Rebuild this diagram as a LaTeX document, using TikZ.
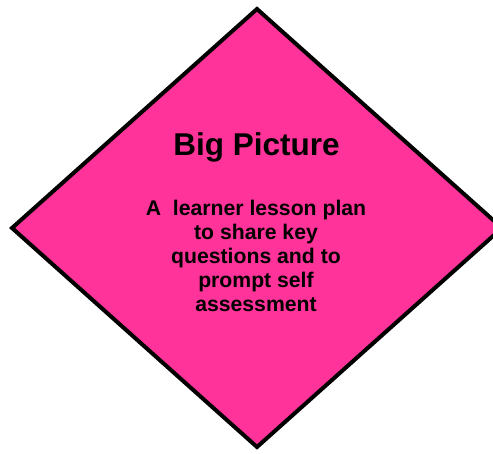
\documentclass[tikz,border=0pt]{standalone}
\usepackage{fontspec}
\setmainfont{Liberation Sans}
\definecolor{bppink}{HTML}{FF3399}
\begin{document}
\begin{tikzpicture}[x=1pt,y=1pt,
  shapeline/.style={draw=black, line width=4pt, fill=bppink, line join=miter},
  titletext/.style={font=\bfseries\fontsize{31.5}{36}\selectfont, anchor=base},
  bodytext/.style={font=\bfseries\fontsize{21.2}{24}\selectfont, align=center, anchor=north}]
\useasboundingbox (0,0) rectangle (493,453);
\coordinate (top) at (257,444);
\coordinate (left) at (12,225);
\coordinate (bottom) at (257,6);
\coordinate (right) at (502,225);
\path[shapeline] (top) -- (right) -- (bottom) -- (left) -- cycle;
\node[titletext] (title) at (256.5,297.5) {Big Picture};
\node[bodytext] (body) at (256,256.5) {A\ \ learner lesson plan\\to share key\\questions and to\\prompt self\\assessment};
\end{tikzpicture}
\end{document}
